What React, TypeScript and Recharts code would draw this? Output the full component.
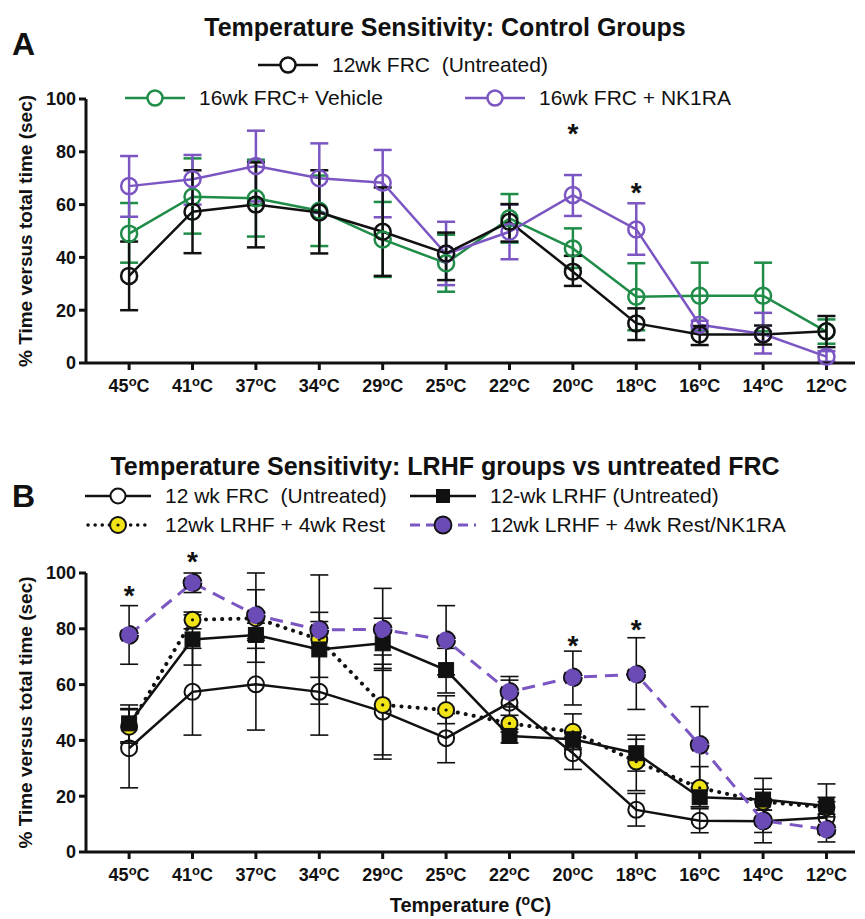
import React from 'react';
import { LineChart, Line, XAxis, YAxis, ErrorBar, ReferenceDot } from 'recharts';

const FONT = '"Liberation Sans", Arial, Helvetica, sans-serif';
const INK = '#111';
const GREEN = '#1f8c48';
const PURPLE = '#7b56c2';
const PURPLE_FILL = '#6b4bb6';
const YELLOW = '#f1e416';

const temps = ['45', '41', '37', '34', '29', '25', '22', '20', '18', '16', '14', '12'];
const yTicks = [0, 20, 40, 60, 80, 100];

// Panel A - control groups (mean, upper and lower end of error bar)
const frcA = [33, 57.3, 60, 57, 49.7, 41.5, 53.5, 34.6, 15, 10.8, 10.8, 12];
const frcAHi = [46, 73, 76, 73, 66.5, 49.4, 60.2, 40.6, 20.7, 14, 14.2, 17.8];
const frcALo = [20, 41.6, 43.8, 41.5, 33, 31.4, 46, 29.2, 8.7, 6.8, 7, 6];
const vehA = [49, 63, 62.4, 57.7, 46.8, 37.8, 54.8, 43.4, 25.1, 25.5, 25.5, 11.9];
const vehAHi = [60.6, 77.5, 77, 71, 61, 48.6, 64, 51, 37.8, 38, 38, 16.5];
const vehALo = [38, 49, 47.9, 44.3, 32.6, 27, 45.6, 36, 12.4, 12, 12, 7.3];
const nkA = [67, 69.6, 74.6, 70, 68.3, 41.3, 49.7, 63.6, 50.6, 14.5, 11, 2.4];
const nkAHi = [78.4, 78.8, 88, 83.2, 80.7, 53.5, 60, 71.2, 60.5, 16, 19, 4.5];
const nkALo = [55.4, 60, 61.2, 56.8, 55.2, 29.5, 39.3, 55.7, 41, 13, 3.6, 0.5];
const starsA = [{ at: 7, y: 89.5 }, { at: 8, y: 67 }];

// Panel B - LRHF groups vs untreated FRC
const frcB = [37.2, 57.4, 60.1, 57.4, 50.3, 40.8, 53.5, 35.4, 15.1, 11.2, 11, 12.4];
const frcBHi = [51.4, 73, 76.5, 73, 67.3, 49.6, 61.6, 41.2, 21, 15.5, 15, 18];
const frcBLo = [23, 41.9, 43.7, 41.9, 33.3, 32, 45.4, 29.6, 9.3, 6.9, 7, 6.5];
const lrhfB = [46.1, 76.2, 77.8, 72.6, 74.8, 65.2, 41.6, 40.4, 35.4, 19.6, 18.8, 16.5];
const lrhfBHi = [52.7, 85, 82, 82.6, 83.8, 73, 44, 43.5, 41.9, 23, 22.5, 19.6];
const lrhfBLo = [39.5, 67, 73, 62.6, 65.8, 57, 39.1, 37.3, 29, 16.2, 15, 13.5];
const restB = [44.9, 83.2, 83.8, 76.2, 52.7, 50.9, 46.1, 43.1, 32.4, 23, 18, 16];
const restBHi = [51, 86, 100, 99.3, 70.6, 56, 49, 49.5, 40.4, 30.6, 26.4, 24.4];
const restBLo = [39, 80, 68, 53, 34.8, 46, 43, 36.7, 22, 16.2, 10, 8];
const nkB = [77.8, 96.5, 84.9, 79.6, 79.8, 75.9, 57.4, 62.6, 63.7, 38.4, 11.2, 8.1];
const nkBHi = [88.3, 100, 94, 85.9, 94.5, 88.3, 62.9, 72, 76.8, 52.1, 19, 12.6];
const nkBLo = [67.3, 93, 75.8, 73.3, 65.1, 63.5, 52, 52.7, 51.1, 24.7, 3.3, 3.6];
const starsB = [{ at: 0, y: 94.3 }, { at: 1, y: 106.5 }, { at: 7, y: 76.2 }, { at: 8, y: 82.2 }];

const err = (m: number[], lo: number[], hi: number[], i: number) => [
  Math.max(0, m[i] - lo[i]),
  Math.max(0, hi[i] - m[i]),
];

const dataA = temps.map((t, i) => ({
  i,
  frc: frcA[i],
  frcErr: err(frcA, frcALo, frcAHi, i),
  veh: vehA[i],
  vehErr: err(vehA, vehALo, vehAHi, i),
  nk: nkA[i],
  nkErr: err(nkA, nkALo, nkAHi, i),
}));

const dataB = temps.map((t, i) => ({
  i,
  frc: frcB[i],
  frcErr: err(frcB, frcBLo, frcBHi, i),
  lrhf: lrhfB[i],
  lrhfErr: err(lrhfB, lrhfBLo, lrhfBHi, i),
  rest: restB[i],
  restErr: err(restB, restBLo, restBHi, i),
  nk: nkB[i],
  nkErr: err(nkB, nkBLo, nkBHi, i),
}));

const tickIdx = temps.map((t, i) => i);

const TempTick = (props: any) => {
  const { x, y, payload } = props;
  return (
    <text x={x} y={y + 20} textAnchor="middle" fontSize={18} fontWeight="bold" fill={INK} fontFamily={FONT}>
      {temps[payload.value]}
      <tspan dy={-6} fontSize={13}>o</tspan>
      <tspan dy={6}>C</tspan>
    </text>
  );
};

const YLabel = (props: any) => {
  const vb = props.viewBox || {};
  const cy = vb.y + vb.height / 2;
  return (
    <text
      transform={`translate(25, ${cy}) rotate(-90)`}
      textAnchor="middle"
      dominantBaseline="central"
      fontSize={19}
      fontWeight="bold"
      fill={INK}
      fontFamily={FONT}
    >
      % Time versus total time (sec)
    </text>
  );
};

const XLabel = (props: any) => {
  const vb = props.viewBox || {};
  return (
    <text x={vb.x + vb.width / 2} y={vb.y + 60} textAnchor="middle" fontSize={20} fontWeight="bold" fill={INK} fontFamily={FONT}>
      Temperature (<tspan dy={-7} fontSize={14}>o</tspan>
      <tspan dy={7}>C)</tspan>
    </text>
  );
};

const Star = (p: any) => (
  <text x={p.cx} y={p.cy + 16} textAnchor="middle" fontSize={28} fontWeight="bold" fill={INK} fontFamily={FONT}>
    *
  </text>
);

const Square = (p: any) => (
  <rect key={`sq-${p.index}`} x={p.cx - 7.5} y={p.cy - 7.5} width={15} height={15} fill={INK} stroke={INK} strokeWidth={1} />
);

const YellowDot = (p: any) => (
  <g key={`yd-${p.index}`}>
    <circle cx={p.cx} cy={p.cy} r={8} fill={YELLOW} stroke={INK} strokeWidth={2} />
    <circle cx={p.cx} cy={p.cy} r={1.6} fill={INK} />
  </g>
);

const axisStyle = { stroke: INK, strokeWidth: 3 };
const yTickStyle = { fontSize: 18, fontWeight: 'bold', fill: INK, fontFamily: FONT };

const Key = ({ x, y, w, text, children }: any) => (
  <>
    <svg style={{ position: 'absolute', left: x, top: y - 12 }} width={w} height={24}>
      {children}
    </svg>
    <div
      style={{
        position: 'absolute',
        left: x + w + 14,
        top: y - 11,
        height: 22,
        lineHeight: '22px',
        fontSize: 21,
        color: INK,
        fontFamily: FONT,
        whiteSpace: 'pre',
      }}
    >
      {text}
    </div>
  </>
);

const Title = ({ top, text }: any) => (
  <div
    style={{
      position: 'absolute',
      left: 0,
      width: 890,
      top,
      textAlign: 'center',
      fontSize: 25,
      lineHeight: '22px',
      fontWeight: 'bold',
      fontFamily: FONT,
      color: INK,
    }}
  >
    {text}
  </div>
);

const Letter = ({ top, text }: any) => (
  <div style={{ position: 'absolute', left: 12, top, fontSize: 32, lineHeight: '34px', fontWeight: 'bold', fontFamily: FONT, color: INK }}>
    {text}
  </div>
);

export default function App() {
  return (
    <div style={{ position: 'absolute', left: 0, top: 0, width: 865, height: 919, background: '#fff', overflow: 'hidden' }}>
      <Title top={16} text="Temperature Sensitivity: Control Groups" />
      <Letter top={27} text="A" />
      <Key x={258} y={65} w={60} text="12wk FRC  (Untreated)">
        <line x1={0} y1={12} x2={60} y2={12} stroke={INK} strokeWidth={2.5} />
        <circle cx={30} cy={12} r={7.5} fill="#fff" stroke={INK} strokeWidth={2.5} />
      </Key>
      <Key x={125} y={98} w={60} text="16wk FRC+ Vehicle">
        <line x1={0} y1={12} x2={60} y2={12} stroke={GREEN} strokeWidth={2.5} />
        <circle cx={30} cy={12} r={7.5} fill="#fff" stroke={GREEN} strokeWidth={2.5} />
      </Key>
      <Key x={465} y={98} w={60} text="16wk FRC + NK1RA">
        <line x1={0} y1={12} x2={60} y2={12} stroke={PURPLE} strokeWidth={2.5} />
        <circle cx={30} cy={12} r={7.5} fill="#fff" stroke={PURPLE} strokeWidth={2.5} />
      </Key>

      <div style={{ position: 'absolute', left: 0, top: 0 }}>
        <LineChart width={865} height={400} data={dataA} margin={{ top: 99, right: 10, bottom: 7, left: 0 }}>
          <XAxis
            type="number"
            dataKey="i"
            domain={[-0.68, 11.45]}
            ticks={tickIdx}
            interval={0}
            tick={(p: any) => <TempTick {...p} />}
            tickSize={7}
            axisLine={axisStyle}
            tickLine={axisStyle}
            height={30}
          />
          <YAxis
            domain={[0, 100]}
            ticks={yTicks}
            interval={0}
            width={86}
            tickSize={7}
            tickMargin={3}
            axisLine={axisStyle}
            tickLine={axisStyle}
            tick={yTickStyle}
            label={{ content: (p: any) => <YLabel {...p} /> }}
          />
          <Line dataKey="veh" stroke={GREEN} strokeWidth={2.5} dot={{ r: 8, fill: 'none', stroke: GREEN, strokeWidth: 2.5 }} activeDot={false} isAnimationActive={false}>
            <ErrorBar dataKey="vehErr" width={9} stroke={GREEN} strokeWidth={2.5} direction="y" />
          </Line>
          <Line dataKey="nk" stroke={PURPLE} strokeWidth={2.5} dot={{ r: 8, fill: 'none', stroke: PURPLE, strokeWidth: 2.5 }} activeDot={false} isAnimationActive={false}>
            <ErrorBar dataKey="nkErr" width={9} stroke={PURPLE} strokeWidth={2.5} direction="y" />
          </Line>
          <Line dataKey="frc" stroke={INK} strokeWidth={2.5} dot={{ r: 8, fill: 'none', stroke: INK, strokeWidth: 2.5 }} activeDot={false} isAnimationActive={false}>
            <ErrorBar dataKey="frcErr" width={9} stroke={INK} strokeWidth={2.5} direction="y" />
          </Line>
          {starsA.map((s) => (
            <ReferenceDot key={`sa-${s.at}`} x={s.at} y={s.y} r={0} ifOverflow="visible" shape={Star} />
          ))}
        </LineChart>
      </div>

      <Title top={455} text="Temperature Sensitivity: LRHF groups vs untreated FRC" />
      <Letter top={479} text="B" />
      <Key x={85} y={496} w={66} text="12 wk FRC  (Untreated)">
        <line x1={0} y1={12} x2={66} y2={12} stroke={INK} strokeWidth={2.5} />
        <circle cx={33} cy={12} r={7.5} fill="#fff" stroke={INK} strokeWidth={2} />
      </Key>
      <Key x={410} y={496} w={66} text="12-wk LRHF (Untreated)">
        <line x1={0} y1={12} x2={66} y2={12} stroke={INK} strokeWidth={2.5} />
        <rect x={26} y={5} width={14} height={14} fill={INK} />
      </Key>
      <Key x={85} y={525} w={66} text="12wk LRHF + 4wk Rest">
        <line x1={3} y1={12} x2={64} y2={12} stroke={INK} strokeWidth={3.5} strokeDasharray="0.1 7" strokeLinecap="round" />
        <circle cx={33} cy={12} r={8} fill={YELLOW} stroke={INK} strokeWidth={2} />
        <circle cx={33} cy={12} r={1.6} fill={INK} />
      </Key>
      <Key x={410} y={525} w={66} text="12wk LRHF + 4wk Rest/NK1RA">
        <line x1={0} y1={12} x2={66} y2={12} stroke={PURPLE} strokeWidth={3} strokeDasharray="10 6" />
        <circle cx={33} cy={12} r={8.5} fill={PURPLE_FILL} stroke={INK} strokeWidth={1.8} />
      </Key>

      <div style={{ position: 'absolute', left: 0, top: 440 }}>
        <LineChart width={865} height={479} data={dataB} margin={{ top: 133, right: 10, bottom: 0, left: 0 }}>
          <XAxis
            type="number"
            dataKey="i"
            domain={[-0.68, 11.45]}
            ticks={tickIdx}
            interval={0}
            tick={(p: any) => <TempTick {...p} />}
            tickSize={7}
            axisLine={axisStyle}
            tickLine={axisStyle}
            height={67}
            label={{ content: (p: any) => <XLabel {...p} /> }}
          />
          <YAxis
            domain={[0, 100]}
            ticks={yTicks}
            interval={0}
            width={86}
            tickSize={7}
            tickMargin={3}
            axisLine={axisStyle}
            tickLine={axisStyle}
            tick={yTickStyle}
            label={{ content: (p: any) => <YLabel {...p} /> }}
          />
          <Line dataKey="frc" stroke={INK} strokeWidth={2.5} dot={{ r: 8, fill: 'none', stroke: INK, strokeWidth: 2 }} activeDot={false} isAnimationActive={false}>
            <ErrorBar dataKey="frcErr" width={9} stroke={INK} strokeWidth={1.6} direction="y" />
          </Line>
          <Line dataKey="rest" stroke={INK} strokeWidth={4} strokeDasharray="0.1 8" strokeLinecap="round" dot={(p: any) => <YellowDot {...p} />} activeDot={false} isAnimationActive={false}>
            <ErrorBar dataKey="restErr" width={9} stroke={INK} strokeWidth={1.6} direction="y" />
          </Line>
          <Line dataKey="lrhf" stroke={INK} strokeWidth={2.5} dot={(p: any) => <Square {...p} />} activeDot={false} isAnimationActive={false}>
            <ErrorBar dataKey="lrhfErr" width={9} stroke={INK} strokeWidth={1.6} direction="y" />
          </Line>
          <Line dataKey="nk" stroke={PURPLE} strokeWidth={3} strokeDasharray="13 8" dot={{ r: 9, fill: PURPLE_FILL, stroke: INK, strokeWidth: 1.8 }} activeDot={false} isAnimationActive={false}>
            <ErrorBar dataKey="nkErr" width={9} stroke={INK} strokeWidth={1.6} direction="y" />
          </Line>
          {starsB.map((s) => (
            <ReferenceDot key={`sb-${s.at}`} x={s.at} y={s.y} r={0} ifOverflow="visible" shape={Star} />
          ))}
        </LineChart>
      </div>
    </div>
  );
}
